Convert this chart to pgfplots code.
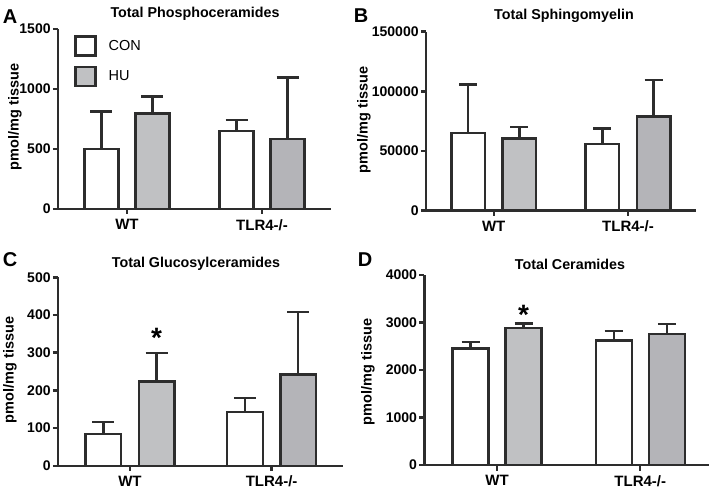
\documentclass[border=0pt]{standalone}
\usepackage{pgfplots}
\pgfplotsset{compat=1.18}
\usepackage{fontspec}
\setmainfont{Liberation Sans}
\definecolor{edge}{RGB}{45,45,45}
\definecolor{huA}{RGB}{192,193,195}
\definecolor{huB}{RGB}{180,180,184}
\pgfplotsset{
  panel/.style={
    scale only axis,
    axis x line=bottom, axis y line=left,
    every outer x axis line/.append style={-},
    every outer y axis line/.append style={-},
    axis line style={-, line width=2.4pt, draw=edge},
    tick align=outside, major tick length=5pt,
    tick style={line width=2.4pt, draw=edge},
    ymin=0, xtick={0,1}, xticklabels={WT,TLR4-/-},
    /pgf/number format/fixed,
    /pgf/number format/assume math mode=true,
    /pgf/number format/set thousands separator={},
    scaled y ticks=false,
    yticklabel style={font=\bfseries\fontsize{14}{14}\selectfont, inner sep=2.2pt},
    xticklabel style={font=\bfseries\fontsize{15}{15}\selectfont, inner sep=2pt, yshift=-3pt},
    clip=false,
  },
  barbase/.style={ybar, draw=edge, line width=2.4pt},
  errs/.style={draw=none, mark=none, forget plot,
    error bars/y dir=plus, error bars/y explicit,
    error bars/error bar style={line width=2.4pt, draw=edge, solid},
    error bars/error mark options={rotate=90, line width=2.4pt, draw=edge, mark size=#1}},
}
\tikzset{tk/.style={draw=edge, line width=2.4pt}}
\newcommand{\ticks}[2]{% #1 = xmin, #2 = list of y ticks
  \pgfplotsinvokeforeach{#2}{\draw[tk] (axis cs:#1,##1) -- ++(-5.5pt,0pt);}
  \draw[tk] (axis cs:0,0) -- ++(0pt,-5.5pt);
  \draw[tk] (axis cs:1,0) -- ++(0pt,-5.5pt);
}
\newcommand{\titlefont}{\bfseries\fontsize{14.3}{15}\selectfont}
\newcommand{\labfont}{\bfseries\fontsize{14.5}{15}\selectfont}
\newcommand{\letfont}{\bfseries\fontsize{20}{20}\selectfont}
\begin{document}
\begin{tikzpicture}
\path[use as bounding box] (0pt,0pt) rectangle (712pt,493pt);
% ---------------- A
\begin{axis}[panel, at={(58pt,284pt)}, anchor=south west, width=273pt, height=180pt,
  xmin=-0.511, xmax=1.511, ymax=1500, ytick={0,500,1000,1500},
  legend style={at={(rel axis cs:0,1)}, anchor=north west, xshift=16pt, yshift=-6pt,
    draw=none, fill=none, inner sep=0pt, row sep=9pt,
    font=\fontsize{14.5}{16}\selectfont, cells={anchor=west},
    /tikz/every odd column/.append style={column sep=10pt}},
  legend entries={CON,HU}]
\addplot[barbase, bar width=34pt, bar shift=-25.5pt, fill=white,
  legend image code/.code={\draw[fill=white, draw=edge, line width=2.4pt] (0pt,-9.5pt) rectangle (20pt,9.5pt);}]
  coordinates {(0,500) (1,650)};
\addplot[barbase, bar width=34pt, bar shift=25.5pt, fill=huA,
  legend image code/.code={\draw[fill=huA, draw=edge, line width=2.4pt] (0pt,-9.5pt) rectangle (20pt,9.5pt);}]
  coordinates {(0,795)};
\addplot[barbase, bar width=34pt, bar shift=25.5pt, fill=huB, forget plot]
  coordinates {(1,583)};
\addplot[errs=11pt] coordinates {(-0.1889,500) +- (0,311) (0.8111,650) +- (0,90)
  (0.1889,795) +- (0,143) (1.1889,583) +- (0,514)};
\ticks{-0.511}{0,500,1000,1500}
\end{axis}
% ---------------- B
\begin{axis}[panel, at={(426pt,282.3pt)}, anchor=south west, width=270pt, height=179pt,
  xmin=-0.504, xmax=1.506, ymax=150000, ytick={0,50000,100000,150000}]
\addplot[barbase, bar width=33.5pt, bar shift=-25.6pt, fill=white]
  coordinates {(0,65300) (1,56000)};
\addplot[barbase, bar width=33.5pt, bar shift=25.6pt, fill=huA]
  coordinates {(0,60500)};
\addplot[barbase, bar width=33.5pt, bar shift=25.6pt, fill=huB]
  coordinates {(1,79000)};
\addplot[errs=9pt] coordinates {(-0.1906,65300) +- (0,40600) (0.8094,56000) +- (0,13000)
  (0.1906,60500) +- (0,9500) (1.1906,79000) +- (0,30500)};
\ticks{-0.504}{0,50000,100000,150000}
\end{axis}
% ---------------- C
\begin{axis}[panel, at={(58pt,27.3pt)}, anchor=south west, width=285pt, height=188.4pt,
  xmin=-0.508, xmax=1.504, ymax=500, ytick={0,100,...,500}]
\addplot[barbase, bar width=35.5pt, bar shift=-26.6pt, fill=white]
  coordinates {(0,84) (1,143)};
\addplot[barbase, bar width=35.5pt, bar shift=26.6pt, fill=huA]
  coordinates {(0,223)};
\addplot[barbase, bar width=35.5pt, bar shift=26.6pt, fill=huB]
  coordinates {(1,242)};
\addplot[errs=11pt] coordinates {(-0.1879,84) +- (0,32) (0.8121,143) +- (0,36)
  (0.1879,223) +- (0,76) (1.1879,242) +- (0,166)};
\node[font=\bfseries\fontsize{28}{28}\selectfont, anchor=base, xshift=26.6pt, yshift=-16pt] at (axis cs:0,355) {*};
\ticks{-0.508}{0,100,200,300,400,500}
\end{axis}
% ---------------- D
\begin{axis}[panel, at={(424.3pt,28pt)}, anchor=south west, width=284.7pt, height=190pt,
  xmin=-0.508, xmax=1.48, ymax=4000, ytick={0,1000,...,4000}]
\addplot[barbase, bar width=36pt, bar shift=-26.5pt, fill=white]
  coordinates {(0,2450) (1,2620)};
\addplot[barbase, bar width=36pt, bar shift=26.5pt, fill=huA]
  coordinates {(0,2880)};
\addplot[barbase, bar width=36pt, bar shift=26.5pt, fill=huB]
  coordinates {(1,2760)};
\addplot[errs=9pt] coordinates {(-0.1853,2450) +- (0,140) (0.8147,2620) +- (0,200)
  (0.1853,2880) +- (0,95) (1.1853,2760) +- (0,210)};
\node[font=\bfseries\fontsize{28}{28}\selectfont, anchor=base, xshift=26.5pt, yshift=-16pt] at (axis cs:0,3305) {*};
\ticks{-0.508}{0,1000,2000,3000,4000}
\end{axis}
% ---------------- texts
\node[font=\titlefont] at (195pt,479pt) {Total Phosphoceramides};
\node[font=\titlefont] at (564pt,477.5pt) {Total Sphingomyelin};
\node[font=\titlefont] at (196pt,229pt) {Total Glucosylceramides};
\node[font=\titlefont] at (570pt,229pt) {Total Ceramides};
\node[font=\labfont, rotate=90] at (15pt,376pt) {pmol/mg tissue};
\node[font=\labfont, rotate=90] at (364pt,373pt) {pmol/mg tissue};
\node[font=\labfont, rotate=90] at (10pt,123pt) {pmol/mg tissue};
\node[font=\labfont, rotate=90] at (368pt,121pt) {pmol/mg tissue};
\node[font=\letfont] at (10pt,476.5pt) {A};
\node[font=\letfont] at (361pt,477pt) {B};
\node[font=\letfont] at (10pt,233pt) {C};
\node[font=\letfont] at (365pt,233pt) {D};
\end{tikzpicture}
\end{document}
